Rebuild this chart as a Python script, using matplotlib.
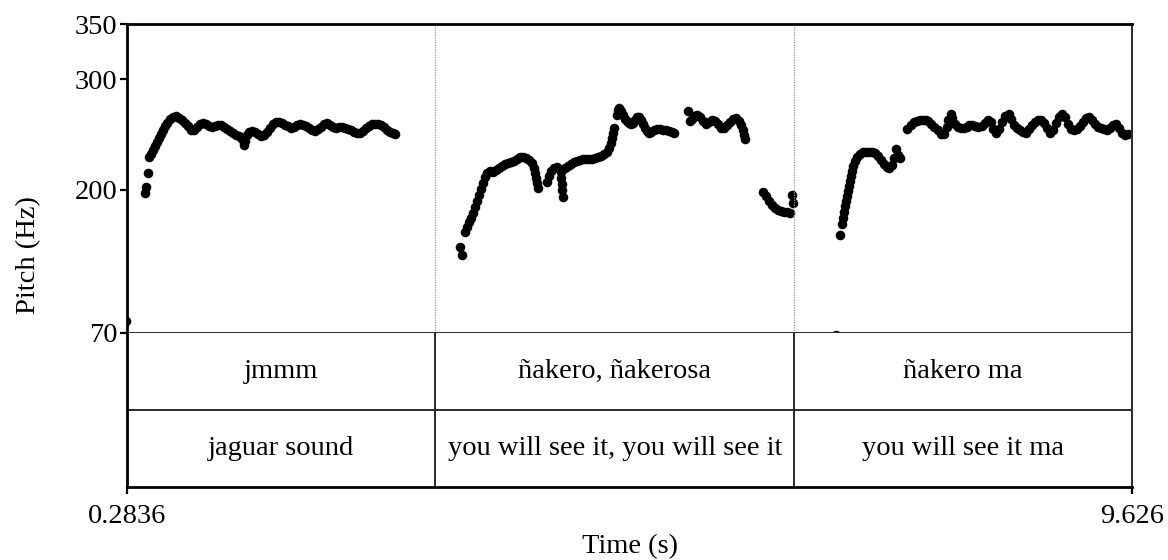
import matplotlib
matplotlib.use("Agg")
import matplotlib.pyplot as plt

plt.rcParams["font.family"] = ["Liberation Serif", "DejaVu Serif"]

# Time range of the recording (s) and interval boundaries of the text tiers
t_start, t_end = 0.2836, 9.626
boundaries = [3.150, 6.485]

tier_words = ["jmmm", "ñakero, ñakerosa", "ñakero ma"]
tier_gloss = ["jaguar sound", "you will see it, you will see it", "you will see it ma"]

y_ticks = [70, 200, 300, 350]

# Pitch track, first utterance ("jmmm")
jmmm_time = [0.272, 0.451, 0.460, 0.479,
             0.488, 0.507, 0.525, 0.544, 0.562, 0.581, 0.600, 0.618, 0.637, 0.655,
             0.683, 0.711, 0.739, 0.767, 0.795, 0.823, 0.851, 0.878, 0.906, 0.934,
             0.962, 0.990, 1.018, 1.045, 1.073, 1.101, 1.129, 1.157, 1.185, 1.213,
             1.241, 1.268, 1.296, 1.324, 1.352, 1.371, 1.380, 1.398, 1.417, 1.445,
             1.473, 1.501, 1.529, 1.556, 1.584, 1.612, 1.640, 1.668, 1.696, 1.724,
             1.752, 1.780, 1.807, 1.835, 1.863, 1.891, 1.919, 1.947, 1.975, 2.002,
             2.030, 2.058, 2.086, 2.114, 2.142, 2.170, 2.197, 2.225, 2.253, 2.281,
             2.309, 2.337, 2.365, 2.392, 2.420, 2.448, 2.476, 2.504, 2.532, 2.560,
             2.587, 2.615, 2.643, 2.671, 2.699, 2.727, 2.755, 2.774]
jmmm_pitch = [81.0, 197.0, 202.5, 215.1,
              229.6, 232.3, 235.9, 239.6, 243.2, 246.8, 250.4, 254.0, 257.7, 260.4,
              264.0, 265.8, 266.7, 264.9, 263.1, 260.4, 257.7, 254.0, 254.0, 256.8,
              259.5, 260.4, 259.5, 257.7, 256.8, 257.7, 258.6, 258.6, 256.8, 255.0,
              253.1, 251.3, 249.5, 248.6, 245.9, 240.5, 244.1, 249.5, 252.2, 253.1,
              252.2, 250.4, 248.6, 249.5, 252.2, 255.9, 259.5, 261.3, 261.3, 260.4,
              258.6, 257.7, 255.9, 256.8, 258.6, 259.5, 258.6, 257.7, 255.9, 254.0,
              253.1, 255.0, 256.8, 259.5, 260.4, 258.6, 256.8, 255.9, 256.8, 256.8,
              255.9, 255.0, 254.0, 252.2, 251.3, 251.3, 253.1, 255.9, 257.7, 259.5,
              259.5, 259.5, 258.6, 256.8, 254.0, 252.2, 251.3, 250.4]

# Pitch track, second utterance ("ñakero, ñakerosa")
nakero_time = [3.377, 3.396,
               3.424, 3.442, 3.461, 3.480, 3.498, 3.517, 3.536, 3.554, 3.573, 3.591,
               3.610, 3.628, 3.656, 3.684, 3.712, 3.740, 3.768, 3.796, 3.824, 3.851,
               3.879, 3.907, 3.935, 3.963, 3.990, 4.018, 4.046, 4.065, 4.074, 4.084,
               4.093, 4.102,
               4.186, 4.204, 4.223, 4.251, 4.279,
               4.316, 4.320, 4.325, 4.330, 4.334,
               4.353, 4.381, 4.409, 4.436, 4.464, 4.492, 4.520, 4.548, 4.576, 4.604,
               4.631, 4.659, 4.687, 4.715, 4.743, 4.761, 4.780, 4.789, 4.799, 4.808,
               4.836, 4.845, 4.854, 4.873, 4.892, 4.910, 4.929, 4.948, 4.966, 4.985,
               5.003, 5.022, 5.041, 5.059, 5.078, 5.097, 5.115, 5.134, 5.152, 5.180,
               5.208, 5.236, 5.264, 5.292, 5.320, 5.347, 5.366,
               5.495,
               5.514, 5.532, 5.551, 5.579, 5.607, 5.635, 5.662, 5.690, 5.718, 5.746,
               5.774, 5.802, 5.830, 5.857, 5.885, 5.913, 5.941, 5.969, 5.988, 6.006,
               6.016, 6.025,
               6.192, 6.220, 6.248, 6.276, 6.304, 6.331, 6.359, 6.387, 6.415, 6.443,
               6.462, 6.471]
nakero_pitch = [148.1, 140.9,
                161.7, 166.2, 170.8, 174.4, 178.9, 184.3, 189.8, 195.2, 200.6, 206.1,
                211.5, 215.1, 216.9, 216.0, 217.8, 219.7, 221.5, 223.3, 224.2, 225.1,
                226.0, 227.8, 229.6, 229.6, 228.7, 226.9, 224.2, 219.7, 215.1, 210.6,
                206.1, 201.5,
                207.0, 212.4, 216.9, 219.7, 220.6,
                216.0, 210.6, 205.2, 199.7, 193.4,
                219.7, 221.5, 223.3, 225.1, 226.0, 226.9, 227.8, 227.8, 227.8, 227.8,
                228.7, 229.6, 230.5, 232.3, 234.1, 237.8, 242.3, 246.8, 251.3, 255.9,
                267.6, 272.2, 274.0, 271.2, 267.6, 264.0, 262.2, 260.4, 259.5, 260.4,
                263.1, 265.8, 265.8, 263.1, 259.5, 255.9, 253.1, 251.3, 252.2, 254.0,
                255.0, 255.0, 254.0, 254.0, 253.1, 252.2, 251.3,
                271.2,
                262.2, 264.0, 266.7, 267.6, 265.8, 262.2, 259.5, 261.3, 263.1, 262.2,
                259.5, 255.9, 255.9, 258.6, 261.3, 264.0, 264.9, 262.2, 258.6, 254.0,
                249.5, 245.9,
                197.9, 194.3, 189.8, 186.2, 183.4, 181.6, 180.7, 179.8, 179.8, 178.9,
                195.2, 188.0]

# Pitch track, third utterance ("ñakero ma")
nakeroma_time = [6.870,
                 6.908, 6.926, 6.936, 6.945, 6.954, 6.964, 6.973, 6.982, 6.992, 7.001,
                 7.010, 7.020, 7.029, 7.048, 7.066, 7.094, 7.122, 7.150, 7.177, 7.205,
                 7.233, 7.261, 7.289, 7.317, 7.345, 7.363, 7.391, 7.410, 7.428, 7.447,
                 7.466,
                 7.539, 7.567, 7.595, 7.623, 7.651, 7.679, 7.707, 7.734, 7.762, 7.790,
                 7.818, 7.846, 7.874, 7.902, 7.920, 7.939, 7.957, 7.976, 8.004, 8.032,
                 8.060, 8.088, 8.115, 8.143, 8.171, 8.199, 8.227, 8.255, 8.283, 8.311,
                 8.338, 8.366, 8.394, 8.422, 8.450, 8.478, 8.505, 8.533, 8.561, 8.589,
                 8.617, 8.645, 8.673, 8.701, 8.728, 8.756, 8.784, 8.812, 8.840, 8.868,
                 8.896, 8.924, 8.951, 8.979, 9.007, 9.035, 9.063, 9.091, 9.119, 9.147,
                 9.174, 9.202, 9.230, 9.258, 9.286, 9.314, 9.342, 9.370, 9.397, 9.425,
                 9.453, 9.481, 9.509, 9.537, 9.565, 9.593]
nakeroma_pitch = [68.0,
                  159.0, 169.0, 174.4, 179.8, 185.3, 189.8, 194.3, 198.8, 203.4, 207.9,
                  212.4, 216.9, 221.5, 226.0, 229.6, 232.3, 234.1, 234.1, 234.1, 234.1,
                  233.2, 230.5, 226.9, 223.3, 220.6, 219.7, 222.4, 228.7, 236.8, 231.4,
                  228.7,
                  255.0, 258.6, 261.3, 262.2, 263.1, 263.1, 263.1, 262.2, 259.5, 256.8,
                  254.0, 250.4, 250.4, 256.8, 263.1, 268.5, 264.9, 259.5, 256.8, 255.9,
                  255.9, 256.8, 258.6, 258.6, 257.7, 256.8, 257.7, 260.4, 263.1, 261.3,
                  255.0, 251.3, 255.0, 261.3, 266.7, 268.5, 264.0, 258.6, 255.9, 254.0,
                  252.2, 251.3, 255.0, 258.6, 261.3, 263.1, 263.1, 260.4, 255.9, 251.3,
                  254.0, 260.4, 265.8, 268.5, 265.8, 259.5, 255.0, 254.0, 255.0, 257.7,
                  261.3, 264.9, 265.8, 263.1, 259.5, 256.8, 255.9, 255.0, 254.0, 255.9,
                  258.6, 259.5, 255.9, 251.3, 249.5, 250.4]

W, H = 1168, 560
fig = plt.figure(figsize=(W / 100, H / 100), dpi=100)

left, right = 127 / W, 1132 / W
y_top, y_mid, y_bot = 24, 333, 487
ax = fig.add_axes([left, 1 - y_mid / H, right - left, (y_mid - y_top) / H])
axt = fig.add_axes([left, 1 - y_bot / H, right - left, (y_bot - y_mid) / H])

FS = 20.5
dark = "#2a2a2a"

# ---- pitch panel ----
ax.set_xlim(t_start, t_end)
ax.set_ylim(70, 350)
for tt, pp in [(jmmm_time, jmmm_pitch), (nakero_time, nakero_pitch),
               (nakeroma_time, nakeroma_pitch)]:
    ax.plot(tt, pp, ls="none", marker="o", ms=6.9, mec="black", mfc="black",
            mew=0, color="black")
for b in boundaries:
    ax.axvline(b, color="#9a9a9a", lw=0.9, ls=(0, (1, 1)))
ax.set_xticks([])
ax.set_yticks(y_ticks)
ax.set_yticklabels([str(v) for v in y_ticks], fontsize=FS)
ax.tick_params(axis="y", direction="out", length=5, width=1.6, pad=2, color="black")
ax.spines["top"].set_linewidth(2.0)
ax.spines["left"].set_linewidth(2.0)
ax.spines["right"].set_linewidth(1.4)
ax.spines["right"].set_color(dark)
ax.spines["bottom"].set_linewidth(1.4)
ax.spines["bottom"].set_color(dark)

# ---- text tiers ----
axt.set_xlim(t_start, t_end)
axt.set_ylim(0, 2)
axt.axhline(1, color=dark, lw=1.4)
for b in boundaries:
    axt.axvline(b, color=dark, lw=1.4)
edges = [t_start] + boundaries + [t_end]
for i in range(len(tier_words)):
    mid = 0.5 * (edges[i] + edges[i + 1])
    axt.text(mid, 1.5, tier_words[i], ha="center", va="center", fontsize=FS)
    axt.text(mid, 0.5, tier_gloss[i], ha="center", va="center", fontsize=FS)
axt.set_yticks([])
axt.set_xticks([t_start, t_end])
axt.set_xticklabels(["0.2836", "9.626"], fontsize=FS)
axt.tick_params(axis="x", direction="out", length=5, width=1.6, pad=7)
axt.spines["top"].set_visible(False)
axt.spines["left"].set_linewidth(2.0)
axt.spines["bottom"].set_linewidth(2.0)
axt.spines["right"].set_linewidth(1.4)
axt.spines["right"].set_color(dark)

fig.text(0.5 * (left + right), 1 - 547 / H, "Time (s)", ha="center", va="center",
         fontsize=FS)
fig.text(29 / W, 1 - 255.5 / H, "Pitch (Hz)", ha="center", va="center",
         rotation=90, fontsize=FS)

fig.savefig("out.png", dpi=100, facecolor="white")
